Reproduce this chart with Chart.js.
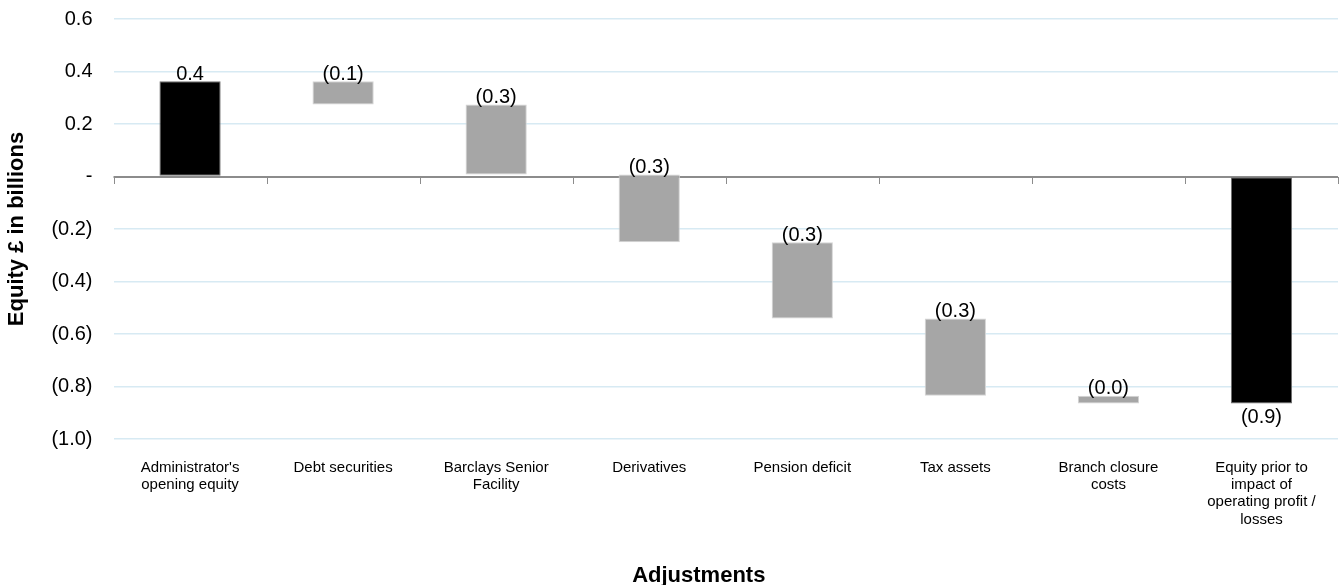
<!DOCTYPE html>
<html>
<head>
<meta charset="utf-8">
<script src="https://cdn.jsdelivr.net/npm/chart.js@4"></script>
<style>
html,body{margin:0;padding:0;background:#fff;}
#wrap{width:1343px;height:585px;}
</style>
</head>
<body>
<div id="wrap"><canvas id="c" width="1343" height="585"></canvas></div>
<script>
const categories = [
  ["Administrator's", "opening equity"],
  ["Debt securities"],
  ["Barclays Senior", "Facility"],
  ["Derivatives"],
  ["Pension deficit"],
  ["Tax assets"],
  ["Branch closure", "costs"],
  ["Equity prior to", "impact of", "operating profit /", "losses"]
];
const barStart = [0, 0.363, 0.274, 0.008, -0.250, -0.541, -0.835, 0];
const barEnd   = [0.363, 0.274, 0.008, -0.250, -0.541, -0.835, -0.865, -0.865];
const barKind  = ["total", "change", "change", "change", "change", "change", "change", "total"];
const yTicks = { min: -1.0, max: 0.6, step: 0.2 };
const xTitle = 'Adjustments';
const yTitle = 'Equity £ in billions';

const FONT = "'Liberation Sans', Arial, sans-serif";

function fmt(v) {
  if (Math.abs(v) < 1e-9) return '-';
  const s = Math.abs(v).toFixed(1);
  return v < 0 ? '(' + s + ')' : s;
}

const zeroAxisPlugin = {
  id: 'zeroAxis',
  beforeDatasetsDraw(chart) {
    const ctx = chart.ctx;
    const xs = chart.scales.x, ys = chart.scales.y;
    const y0 = Math.round(ys.getPixelForValue(0));
    ctx.save();
    ctx.strokeStyle = '#8c8c8c';
    ctx.lineWidth = 1;
    for (let i = 0; i <= categories.length; i++) {
      const bx = Math.round(xs.getPixelForValue(i - 0.5)) + 0.5;
      ctx.beginPath();
      ctx.moveTo(bx, y0);
      ctx.lineTo(bx, y0 + 7);
      ctx.stroke();
    }
    ctx.lineWidth = 2;
    ctx.beginPath();
    ctx.moveTo(xs.left, y0);
    ctx.lineTo(xs.right, y0);
    ctx.stroke();
    ctx.restore();
  }
};

const labelPlugin = {
  id: 'wfLabels',
  afterDatasetsDraw(chart) {
    const ctx = chart.ctx;
    const meta = chart.getDatasetMeta(0);
    ctx.save();
    ctx.font = '20px ' + FONT;
    ctx.fillStyle = '#000';
    ctx.textAlign = 'center';
    meta.data.forEach((el, i) => {
      const delta = barEnd[i] - barStart[i];
      const txt = fmt(delta);
      const top = Math.min(el.y, el.base);
      const bottom = Math.max(el.y, el.base);
      if (barKind[i] === 'total' && delta < 0) {
        ctx.textBaseline = 'top';
        ctx.fillText(txt, el.x, bottom + 4);
      } else {
        ctx.textBaseline = 'bottom';
        ctx.fillText(txt, el.x, top + 3);
      }
    });
    ctx.restore();
  },
  afterDraw(chart) {
    const ctx = chart.ctx;
    const a = chart.chartArea;
    ctx.save();
    ctx.font = 'bold 22px ' + FONT;
    ctx.fillStyle = '#000';
    ctx.textAlign = 'center';
    ctx.textBaseline = 'alphabetic';
    ctx.fillText(xTitle, (a.left + a.right) / 2 - 27, chart.height - 3);
    ctx.restore();
  }
};

new Chart(document.getElementById('c'), {
  type: 'bar',
  data: {
    labels: categories,
    datasets: [{
      data: barStart.map((s, i) => [s, barEnd[i]]),
      backgroundColor: barKind.map(k => k === 'total' ? '#000000' : '#a6a6a6'),
      borderColor: barKind.map(k => k === 'total' ? '#6f6f6f' : '#d4d4d4'),
      borderWidth: 1,
      borderSkipped: false,
      categoryPercentage: 1.0,
      barPercentage: 0.4
    }]
  },
  options: {
    responsive: false,
    animation: false,
    devicePixelRatio: 1,
    layout: { padding: { top: 19, right: 5, left: 4, bottom: 37 } },
    plugins: { legend: { display: false }, tooltip: { enabled: false } },
    scales: {
      x: {
        type: 'category',
        offset: true,
        grid: { display: false, offset: true, drawTicks: false },
        border: { display: false },
        ticks: {
          font: { family: FONT, size: 15, lineHeight: 1.15 },
          color: '#000',
          maxRotation: 0,
          autoSkip: false,
          padding: 20
        }
      },
      y: {
        min: yTicks.min,
        max: yTicks.max,
        afterFit(scale) {
          scale.paddingTop = 0;
          scale.paddingBottom = 0;
        },
        grid: {
          color: ctx => (ctx.tick && Math.abs(ctx.tick.value) < 1e-9) ? 'rgba(0,0,0,0)' : '#d7eaf3',
          lineWidth: 1.5,
          drawTicks: false
        },
        border: { display: false },
        ticks: {
          stepSize: yTicks.step,
          padding: 21,
          font: { family: FONT, size: 20 },
          color: '#000',
          callback: v => fmt(v)
        },
        title: {
          display: true,
          text: yTitle,
          font: { family: FONT, size: 22, weight: 'bold' },
          color: '#000',
          padding: { top: 0, bottom: 0 }
        }
      }
    }
  },
  plugins: [zeroAxisPlugin, labelPlugin]
});
</script>
</body>
</html>
